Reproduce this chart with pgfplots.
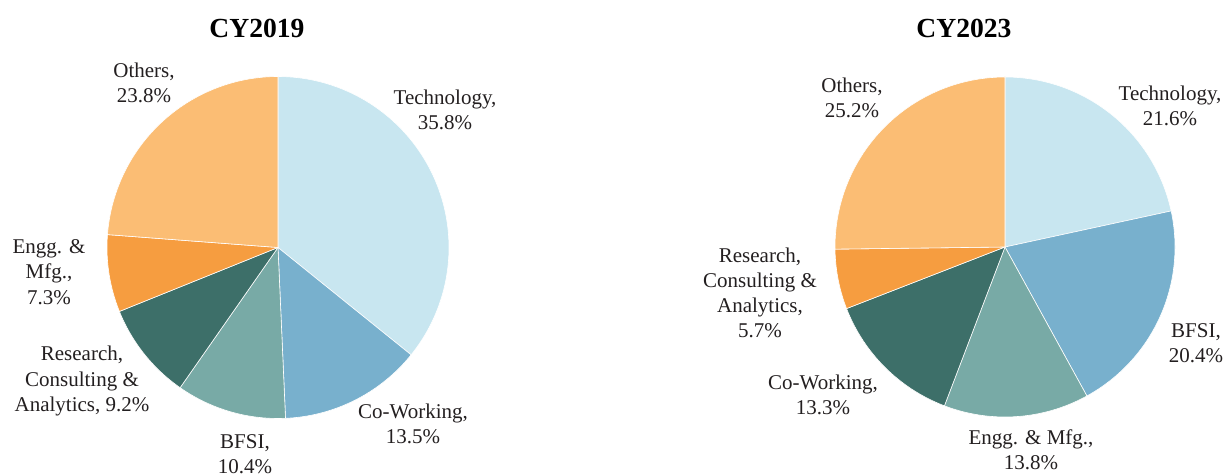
\documentclass[border=0pt]{standalone}
\usepackage{pgfplots}
\pgfplotsset{compat=1.18}
\usepackage{fontspec}
\setmainfont{Liberation Serif}
\definecolor{cTech}{HTML}{C8E6F0}
\definecolor{cMid}{HTML}{78B0CD}
\definecolor{cTeal}{HTML}{78AAA6}
\definecolor{cDark}{HTML}{3D6F69}
\definecolor{cOrg}{HTML}{F69D40}
\definecolor{cLOrg}{HTML}{FBBD74}
\definecolor{txt}{HTML}{231F20}
% #1 cx, #2 cy, #3 radius, #4 cumulative start (%), #5 value (%), #6 colour
\newcommand{\slice}[6]{%
  \addplot[fill=#6, draw=white, line width=0.3pt, domain={90-3.6*(#4+#5)}:{90-3.6*(#4)}, samples=80, variable=\t]
    ({#1+#3*cos(\t)},{#2+#3*sin(\t)}) -- (axis cs:#1,#2) -- cycle;
}
\begin{document}
\begin{tikzpicture}
\begin{axis}[
  width=612pt, height=237.5pt, scale only axis,
  xmin=0, xmax=1224, ymin=0, ymax=475,
  hide axis, clip=false,
]
\path (axis cs:0,0) rectangle (axis cs:1224,475);
% CY2019: Technology 35.8, Co-Working 13.5, BFSI 10.4, Research 9.2, Engg 7.3, Others 23.8
\slice{278}{227.5}{171}{0}{35.8}{cTech}
\slice{278}{227.5}{171}{35.8}{13.5}{cMid}
\slice{278}{227.5}{171}{49.3}{10.4}{cTeal}
\slice{278}{227.5}{171}{59.7}{9.2}{cDark}
\slice{278}{227.5}{171}{68.9}{7.3}{cOrg}
\slice{278}{227.5}{171}{76.2}{23.8}{cLOrg}
% CY2023: Technology 21.6, BFSI 20.4, Engg 13.8, Co-Working 13.3, Research 5.7, Others 25.2
\slice{1005}{228}{170}{0}{21.6}{cTech}
\slice{1005}{228}{170}{21.6}{20.4}{cMid}
\slice{1005}{228}{170}{42.0}{13.8}{cTeal}
\slice{1005}{228}{170}{55.8}{13.3}{cDark}
\slice{1005}{228}{170}{69.1}{5.7}{cOrg}
\slice{1005}{228}{170}{74.8}{25.2}{cLOrg}
% titles
\node[font=\bfseries\fontsize{13.8}{16}\selectfont, text=black] at (axis cs:257,447) {CY2019};
\node[font=\bfseries\fontsize{13.8}{16}\selectfont, text=black] at (axis cs:964,447) {CY2023};
% labels
\tikzset{lab/.style={align=center, text=txt, font=\fontsize{10.5}{12.6}\selectfont, inner sep=0pt}}
\node[lab] at (axis cs:144,392) {Others,\\23.8\%};
\node[lab] at (axis cs:445,365) {Technology,\\35.8\%};
\node[lab] at (axis cs:413,51) {Co-Working,\\13.5\%};
\node[lab] at (axis cs:245,21) {BFSI,\\10.4\%};
\node[lab] at (axis cs:82,94) {Research,\\Consulting \&\\Analytics, 9.2\%};
\node[lab] at (axis cs:49,203) {Engg. \&\\Mfg.,\\7.3\%};
\node[lab] at (axis cs:852,377) {Others,\\25.2\%};
\node[lab] at (axis cs:1170,369) {Technology,\\21.6\%};
\node[lab] at (axis cs:1196,132) {BFSI,\\20.4\%};
\node[lab] at (axis cs:1031,25) {Engg. \& Mfg.,\\13.8\%};
\node[lab] at (axis cs:823,80) {Co-Working,\\13.3\%};
\node[lab] at (axis cs:760,182) {Research,\\Consulting \&\\Analytics,\\5.7\%};
\end{axis}
\end{tikzpicture}
\end{document}
